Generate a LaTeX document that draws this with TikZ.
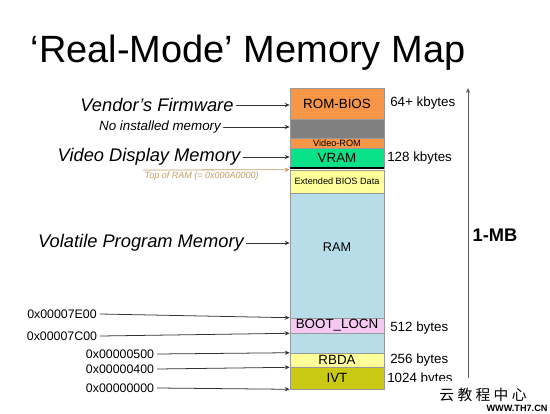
\documentclass[tikz,border=0pt]{standalone}
\usepackage{fontspec}
\setmainfont{Liberation Sans}
\newfontfamily\cjk{Noto Sans CJK SC}
\usepackage{tikz}
\usetikzlibrary{arrows.meta, positioning}
\definecolor{romorange}{RGB}{247, 150, 70}
\definecolor{nomemgray}{RGB}{128, 128, 128}
\definecolor{vramgreen}{RGB}{10, 226, 138}
\definecolor{ebdayellow}{RGB}{255, 255, 153}
\definecolor{ramblue}{RGB}{183, 221, 232}
\definecolor{bootpink}{RGB}{245, 200, 242}
\definecolor{ivtolive}{RGB}{202, 202, 20}
\definecolor{topramtan}{RGB}{196, 156, 96}

\begin{document}
\begin{tikzpicture}[
    x=0.025cm, y=-0.025cm,
    arrow/.style={-{Stealth[length=3.5pt, width=3pt]}, line width=0.55pt, black!80},
    seg/.style={draw=gray!80, line width=0.4pt, minimum width=2.35cm, inner sep=0pt,
        font=\fontsize{9.5}{11}\selectfont},
    tinyseg/.style={seg, font=\fontsize{6.5}{7}\selectfont},
    bigtag/.style={inner sep=1.5pt, font=\fontsize{13}{15}\selectfont\itshape},
    addr/.style={inner sep=2pt, font=\fontsize{8.8}{10}\selectfont},
    sizetag/.style={anchor=west, inner sep=0pt, font=\fontsize{9.5}{11}\selectfont}
]
    \useasboundingbox (0,0) rectangle (550,413);

    % Title
    \node[font=\fontsize{27}{30}\selectfont] (title) at (248,53) {‘Real-Mode’ Memory Map};

    % Memory column (top to bottom)
    \node[seg, fill=romorange, minimum height=0.775cm] (rom) at (337,103.5) {ROM-BIOS};
    \node[seg, fill=nomemgray, minimum height=0.475cm] (nomem) at (337,128.5) {};
    \node[tinyseg, fill=romorange, minimum height=0.25cm] (vrom) at (337,143) {Video-ROM};
    \node[seg, fill=vramgreen, minimum height=0.5cm] (vram) at (337,158) {VRAM};
    \node[tinyseg, fill=ebdayellow, minimum height=0.575cm] (ebda) at (337,181.5) {Extended BIOS Data};
    \draw[line width=1.4pt] (vram.south west) -- (vram.south east);
    \node[seg, fill=ramblue, minimum height=3.125cm] (ram) at (337,255.5) {};
    \node[font=\fontsize{9}{11}\selectfont] (ramtxt) at (337,247) {RAM};
    \node[seg, fill=bootpink, minimum height=0.375cm] (boot) at (337,325.5) {BOOT\_LOCN};
    \node[seg, fill=ramblue, minimum height=0.5cm] (ram2) at (337,343) {};
    \node[seg, fill=ebdayellow, minimum height=0.35cm] (rbda) at (337,360) {RBDA};
    \node[seg, fill=ivtolive, minimum height=0.55cm] (ivt) at (337,378) {IVT};

    % Left labels
    \node[bigtag] (vendor) at (157,105) {Vendor’s Firmware};
    \node[inner sep=1.5pt, font=\fontsize{9.5}{11}\selectfont\itshape] (noinst) at (160,127) {No installed memory};
    \node[bigtag] (video) at (149,157) {Video Display Memory};
    \node[anchor=north west, inner sep=1pt, topramtan, font=\fontsize{6.4}{8}\selectfont\itshape] (topram) at (143,170) {Top of RAM (= 0x000A0000)};
    \node[bigtag] (volatile) at (141,243) {Volatile Program Memory};

    \draw[arrow] (vendor.east) -- (vendor.east -| rom.west);
    \draw[arrow] (noinst.east) -- (noinst.east -| nomem.west);
    \draw[arrow] (video.east) -- (video.east -| vram.west);
    \draw[arrow, topramtan] (topram.north west) -- (ebda.north west);
    \draw[arrow] (volatile.east) -- (volatile.east -| ram.west);

    % Addresses
    \node[addr] (a7e00) at (62,314) {0x00007E00};
    \node[addr] (a7c00) at (62,336) {0x00007C00};
    \node[addr] (a0500) at (120,354) {0x00000500};
    \node[addr] (a0400) at (120,369) {0x00000400};
    \node[addr] (a0000) at (120,388) {0x00000000};

    \draw[arrow] (a7e00.east) -- (boot.north west);
    \draw[arrow] (a7c00.east) -- (boot.south west);
    \draw[arrow] (a0500.east) -- (rbda.north west);
    \draw[arrow] (a0400.east) -- (rbda.south west);
    \draw[arrow] (a0000.east) -- (ivt.south west);

    % Sizes on the right
    \node[sizetag] (s64) at (390,103) {64+ kbytes};
    \node[sizetag] (s128) at (387,158) {128 kbytes};
    \node[sizetag] (s512) at (390,328) {512 bytes};
    \node[sizetag] (s256) at (390,360) {256 bytes};
    \node[sizetag] (s1024) at (387,379) {1024 bytes};

    % 1-MB span
    \coordinate (mbbot) at (468,378);
    \coordinate (mbtop) at (468,88);
    \draw[arrow, black!65] (mbbot) -- (mbtop);
    \node[font=\fontsize{13}{15}\selectfont\bfseries] (mb) at (495,235) {1-MB};

    % Watermark
    \node[fill=white, minimum width=3cm, minimum height=0.7cm, inner sep=2pt, font=\cjk\fontsize{10.5}{12}\selectfont] (wm) at (483,395) {云 教 程 中 心};
    \node[font=\fontsize{6.5}{7}\selectfont\bfseries] (wmurl) at (517,408) {WWW.TH7.CN};

\end{tikzpicture}
\end{document}
